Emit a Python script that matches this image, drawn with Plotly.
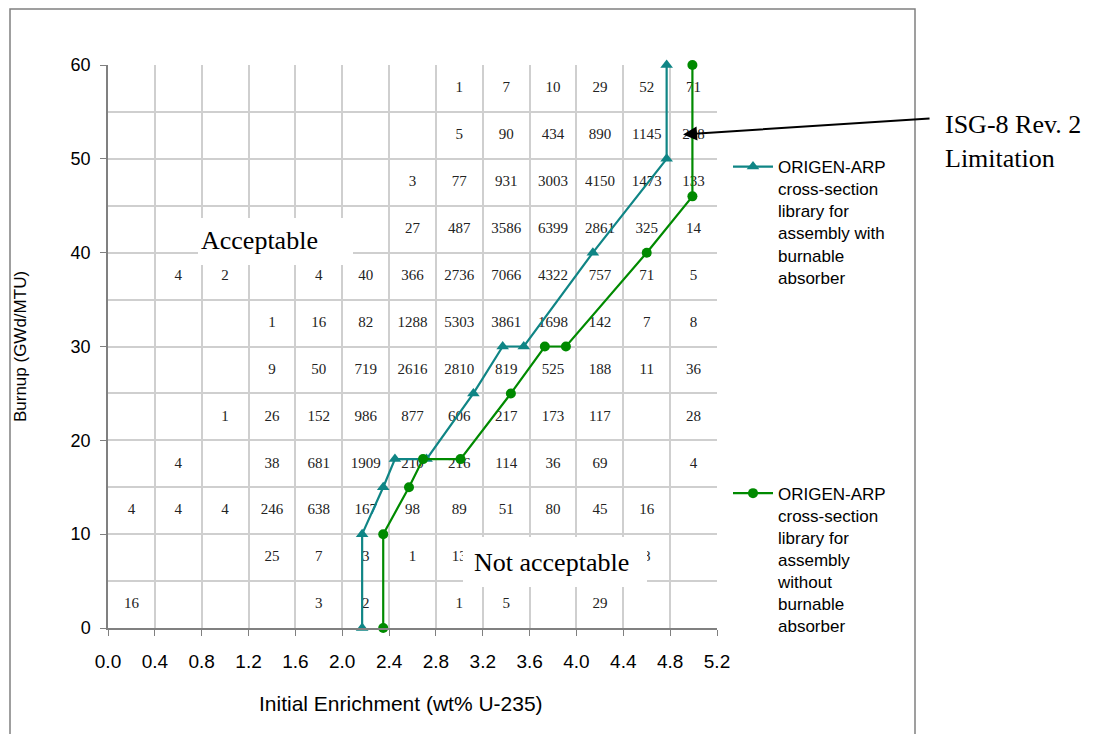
import plotly.graph_objects as go

# ---- data ----
col_centers = [0.2, 0.6, 1.0, 1.4, 1.8, 2.2, 2.6, 3.0, 3.4, 3.8, 4.2, 4.6, 5.0]
row_centers = [57.5, 52.5, 47.5, 42.5, 37.5, 32.5, 27.5, 22.5, 17.5, 12.5, 7.5, 2.5]
cell_counts = [
    ['', '', '', '', '', '', '', '1', '7', '10', '29', '52', '71'],
    ['', '', '', '', '', '', '', '5', '90', '434', '890', '1145', '218'],
    ['', '', '', '', '', '', '3', '77', '931', '3003', '4150', '1473', '133'],
    ['', '', '', '', '', '', '27', '487', '3586', '6399', '2861', '325', '14'],
    ['', '4', '2', '', '4', '40', '366', '2736', '7066', '4322', '757', '71', '5'],
    ['', '', '', '1', '16', '82', '1288', '5303', '3861', '1698', '142', '7', '8'],
    ['', '', '', '9', '50', '719', '2616', '2810', '819', '525', '188', '11', '36'],
    ['', '', '1', '26', '152', '986', '877', '606', '217', '173', '117', '', '28'],
    ['', '4', '', '38', '681', '1909', '210', '216', '114', '36', '69', '', '4'],
    ['4', '4', '4', '246', '638', '167', '98', '89', '51', '80', '45', '16', ''],
    ['', '', '', '25', '7', '3', '1', '13', '', '', '', '8', ''],
    ['16', '', '', '', '3', '2', '', '1', '5', '', '29', '', ''],
]

ba_enrich = [2.17, 2.17, 2.35, 2.45, 2.72, 3.12, 3.37, 3.55, 4.14, 4.77, 4.77]
ba_burnup = [0, 10, 15, 18, 18, 25, 30, 30, 40, 50, 60]
noba_enrich = [2.35, 2.35, 2.57, 2.69, 3.01, 3.44, 3.73, 3.91, 4.60, 4.99, 4.99]
noba_burnup = [0, 10, 15, 18, 18, 25, 30, 30, 40, 46, 60]

x_ticks = [0.0, 0.4, 0.8, 1.2, 1.6, 2.0, 2.4, 2.8, 3.2, 3.6, 4.0, 4.4, 4.8, 5.2]
y_ticks = [0, 10, 20, 30, 40, 50, 60]

ba_name = "ORIGEN-ARP<br>cross-section<br>library for<br>assembly with<br>burnable<br>absorber"
noba_name = "ORIGEN-ARP<br>cross-section<br>library for<br>assembly<br>without<br>burnable<br>absorber"

TEAL = "#0f8585"
GREEN = "#008a00"
SERIF = "Liberation Serif, Times New Roman, serif"
SANS = "Liberation Sans, Arial, sans-serif"

# flatten table for text trace
tx, ty, tt = [], [], []
for r, row in zip(row_centers, cell_counts):
    for c, v in zip(col_centers, row):
        if v:
            tx.append(c); ty.append(r); tt.append(v)

fig = go.Figure()
fig.add_trace(go.Scatter(x=tx, y=ty, text=tt, mode="text", showlegend=False,
                         textfont=dict(family=SERIF, size=15, color="#222222"),
                         hoverinfo="skip"))
fig.add_trace(go.Scatter(x=ba_enrich, y=ba_burnup, mode="lines+markers", name=ba_name,
                         line=dict(color=TEAL, width=2.2),
                         marker=dict(symbol="triangle-up", size=11, color=TEAL),
                         legendgroup="a", cliponaxis=False))
fig.add_trace(go.Scatter(x=noba_enrich, y=noba_burnup, mode="lines+markers", name=noba_name,
                         line=dict(color=GREEN, width=2.2),
                         marker=dict(symbol="circle", size=10, color=GREEN),
                         legendgroup="b", cliponaxis=False))

OFF = 8  # page body margin
W, H = 1102 - OFF, 734 - OFF
L = 108 - OFF
T = 65 - OFF
R = W - (717 - OFF)
B = H - (628 - OFF)
pw, ph = W - L - R, H - T - B

def px(x):
    return (x - OFF - L) / pw

def py(y):
    return (H - B - (y - OFF)) / ph

shapes = [
    # outer frame
    dict(type="rect", xref="paper", yref="paper", x0=px(10), x1=px(915), y0=py(745), y1=py(9),
         line=dict(color="#808080", width=1.5), fillcolor="rgba(0,0,0,0)", layer="below"),
    # label boxes
    dict(type="rect", xref="paper", yref="paper", x0=px(198), x1=px(353), y0=py(265), y1=py(218),
         line=dict(width=0), fillcolor="white", layer="above"),
    dict(type="rect", xref="paper", yref="paper", x0=px(463), x1=px(647), y0=py(587), y1=py(537),
         line=dict(width=0), fillcolor="white", layer="above"),
]

annotations = [
    dict(text="Acceptable", xref="paper", yref="paper", x=px(259), y=py(241), showarrow=False,
         font=dict(family=SERIF, size=26, color="black"), xanchor="center", yanchor="middle"),
    dict(text="Not acceptable", xref="paper", yref="paper", x=px(551), y=py(562), showarrow=False,
         font=dict(family=SERIF, size=26, color="black"), xanchor="center", yanchor="middle"),
    dict(text="ISG-8 Rev. 2<br>Limitation", xref="paper", yref="paper", x=px(943), y=py(108),
         showarrow=False, align="left", xanchor="left", yanchor="top",
         font=dict(family=SERIF, size=26, color="black")),
    dict(text="", x=4.91, y=52.6, xref="x", yref="y", showarrow=True, arrowhead=2,
         arrowsize=1.4, arrowwidth=2, arrowcolor="black", ax=248, ay=-16, axref="pixel",
         ayref="pixel", standoff=0),
    dict(text="Initial Enrichment (wt% U-235)", xref="paper", yref="paper", x=px(401), y=py(703),
         showarrow=False, xanchor="center", yanchor="middle",
         font=dict(family=SANS, size=21, color="black")),
]

fig.update_layout(
    width=W, height=H,
    margin=dict(l=L, r=R, t=T, b=B, autoexpand=False),
    paper_bgcolor="white", plot_bgcolor="white",
    shapes=shapes, annotations=annotations,
    legend=dict(x=px(728), y=py(149), xanchor="left", yanchor="top",
                font=dict(family=SANS, size=17, color="black"),
                tracegroupgap=191, valign="top", bgcolor="rgba(0,0,0,0)",
                itemwidth=40),
    xaxis=dict(range=[0, 5.2], tickvals=x_ticks, ticktext=[f"{v:.1f}" for v in x_ticks],
               showgrid=True, gridcolor="#cfcfcf", gridwidth=1.5,
               showline=True, linecolor="#808080", linewidth=1.5, automargin=False,
               ticks="outside", ticklen=6, tickcolor="#808080", ticklabelstandoff=9,
               tickfont=dict(family=SANS, size=19, color="black"), zeroline=False),
    yaxis=dict(range=[0, 60], tickvals=y_ticks,
               showgrid=True, gridcolor="#cfcfcf", gridwidth=1.5,
               minor=dict(dtick=5, tick0=0, showgrid=True, gridcolor="#cfcfcf", gridwidth=1.5),
               showline=True, linecolor="#808080", linewidth=1.5, automargin=False,
               ticks="outside", ticklen=6, tickcolor="#808080", ticklabelstandoff=6,
               tickfont=dict(family=SANS, size=18, color="black"), zeroline=False,
               title=dict(text="Burnup (GWd/MTU)", standoff=40,
                          font=dict(family=SANS, size=17, color="black"))),
)

fig.write_html("out.html")
